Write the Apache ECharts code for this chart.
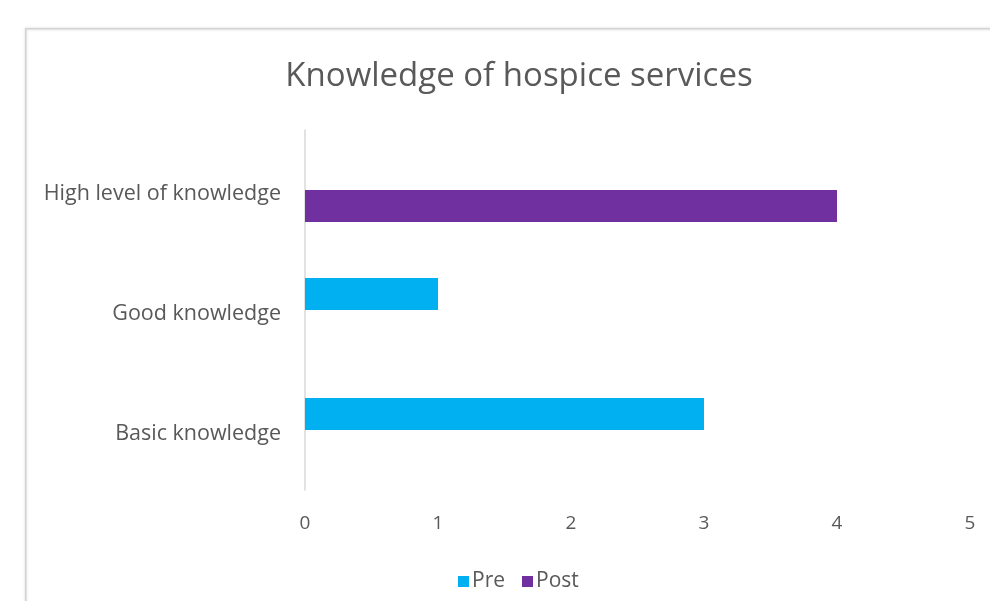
<!DOCTYPE html>
<html><head><meta charset="utf-8">
<script src="https://cdn.jsdelivr.net/npm/echarts@6/dist/echarts.min.js"></script>
<style>html,body{margin:0;padding:0;background:#fff}#c{width:990px;height:601px}</style>
</head><body><div id="c"></div>
<script>
var categories = ['Basic knowledge', 'Good knowledge', 'High level of knowledge'];
var preValues = [3, 1, 0];
var postValues = [0, 0, 4];
var xTicks = {min: 0, max: 5, interval: 1};

var chart = echarts.init(document.getElementById('c'), null, {renderer: 'canvas'});
var font = '"Open Sans", sans-serif';
chart.setOption({
  animation: false,
  backgroundColor: '#fff',
  graphic: [{
    type: 'rect', left: 25, top: 28, z: -1,
    shape: {width: 1000, height: 600},
    style: {fill: '#fff', stroke: '#d4d4d4', lineWidth: 1.5, shadowColor: 'rgba(0,0,0,0.15)', shadowBlur: 3}
  }],
  title: {
    text: 'Knowledge of hospice services',
    left: 514, top: 55, textAlign: 'center',
    textStyle: {fontFamily: font, fontSize: 33, fontWeight: 'normal', color: '#595959'}
  },
  legend: {
    data: ['Pre', 'Post'],
    left: 453, top: 566,
    itemWidth: 11, itemHeight: 11, itemGap: 17,
    icon: 'rect',
    textStyle: {fontFamily: font, fontSize: 21, color: '#595959', padding: [0, 0, 0, -2]}
  },
  grid: {left: 305, right: 20, top: 130, bottom: 111, containLabel: false},
  xAxis: {
    type: 'value', min: xTicks.min, max: xTicks.max, interval: xTicks.interval,
    axisLine: {show: false}, axisTick: {show: false}, splitLine: {show: false},
    axisLabel: {fontFamily: font, fontSize: 19, color: '#595959', margin: 24}
  },
  yAxis: {
    type: 'category', data: categories,
    axisLine: {show: true, lineStyle: {color: '#d9d9d9', width: 1.5}},
    axisTick: {show: false},
    axisLabel: {
      margin: 24,
      formatter: '{a|{value}}',
      rich: {a: {fontFamily: font, fontSize: 21.5, color: '#595959', padding: [7, 0, 0, 0]}}
    }
  },
  series: [
    {name: 'Pre', type: 'bar', data: preValues, barWidth: 32, barGap: '0%', itemStyle: {color: '#00B0F0'}},
    {name: 'Post', type: 'bar', data: postValues, barWidth: 32, barGap: '0%', itemStyle: {color: '#7030A0'}}
  ]
});
</script></body></html>
